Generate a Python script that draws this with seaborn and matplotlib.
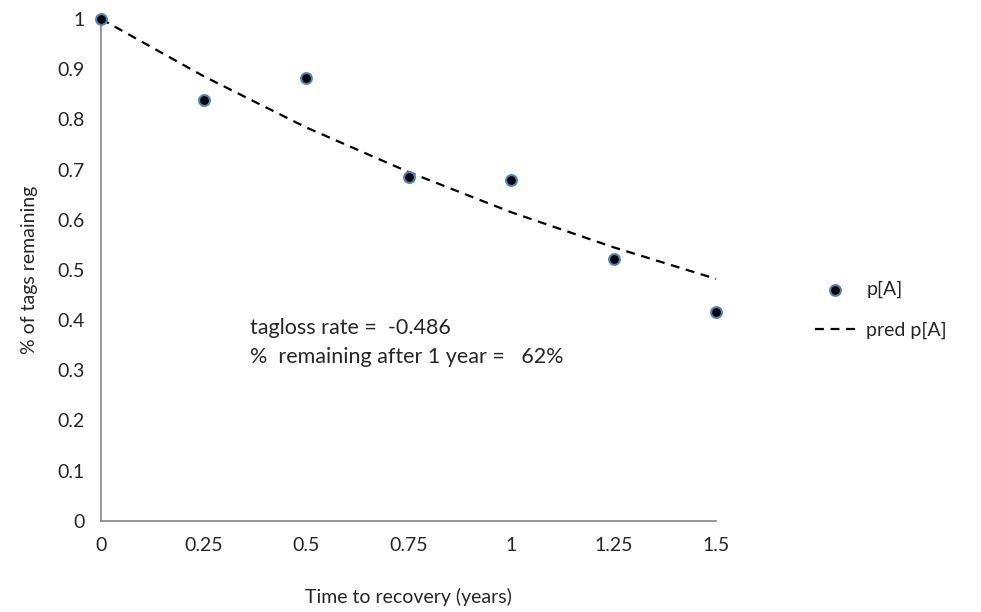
import matplotlib
matplotlib.use("Agg")
import matplotlib.pyplot as plt
import seaborn as sns
import pandas as pd

# valeurs
temps = [0, 0.25, 0.5, 0.75, 1.0, 1.25, 1.5]
p_obs = [1.0, 0.838, 0.882, 0.686, 0.680, 0.522, 0.417]
p_pred = [1.0, 0.886, 0.784, 0.695, 0.615, 0.545, 0.482]
xticks = [0, 0.25, 0.5, 0.75, 1, 1.25, 1.5]
xtick_labels = ["0", "0.25", "0.5", "0.75", "1", "1.25", "1.5"]
yticks = [0, 0.1, 0.2, 0.3, 0.4, 0.5, 0.6, 0.7, 0.8, 0.9, 1]
ytick_labels = ["0", "0.1", "0.2", "0.3", "0.4", "0.5", "0.6", "0.7", "0.8", "0.9", "1"]

df = pd.DataFrame({"t": temps, "obs": p_obs, "pred": p_pred})

sns.set_style("white")
plt.rcParams["font.family"] = ["Lato", "DejaVu Sans"]

fig = plt.figure(figsize=(9.81, 6.12), dpi=100)
ax = fig.add_axes([0.103, 0.149, 0.627, 0.82])

sns.lineplot(data=df, x="t", y="pred", ax=ax, color="black", linestyle=(0, (4, 3)),
             linewidth=1.6, label="pred p[A]", zorder=2)
sns.scatterplot(data=df, x="t", y="obs", ax=ax, color="black", edgecolor="#4F81BD",
                linewidth=1.5, s=60, label="p[A]", zorder=3)

ax.set_xlim(0, 1.5)
ax.set_ylim(0, 1)
ax.set_xticks(xticks)
ax.set_xticklabels(xtick_labels)
ax.set_yticks(yticks)
ax.set_yticklabels(ytick_labels)
for s in ["top", "right"]:
    ax.spines[s].set_visible(False)
for s in ["left", "bottom"]:
    ax.spines[s].set_color("#868686")
    ax.spines[s].set_linewidth(1.2)
ax.tick_params(axis="both", which="both", direction="out", length=5, width=1.2,
               color="#868686", labelsize=14, pad=7)
for sp in ax.spines.values():
    sp.set_clip_on(False)
for c in ax.collections:
    c.set_clip_on(False)
for l in ax.lines:
    l.set_clip_on(False)

ax.set_xlabel("Time to recovery (years)", fontsize=14, labelpad=24)
ax.set_ylabel("% of tags remaining", fontsize=14, labelpad=14)

ax.text(0.363, 0.384, "tagloss rate =  -0.486", fontsize=15.5, transform=ax.transData, va="center")
ax.text(0.363, 0.326, "%  remaining after 1 year =   62%", fontsize=15.5, transform=ax.transData, va="center")

h, lab = ax.get_legend_handles_labels()
order = [lab.index("p[A]"), lab.index("pred p[A]")]
ax.legend([h[i] for i in order], [lab[i] for i in order], loc="center left",
          bbox_to_anchor=(1.132, 0.42), frameon=False, fontsize=14,
          handlelength=2.1, handletextpad=0.55, labelspacing=1.2)

fig.savefig("out.png", dpi=100)
